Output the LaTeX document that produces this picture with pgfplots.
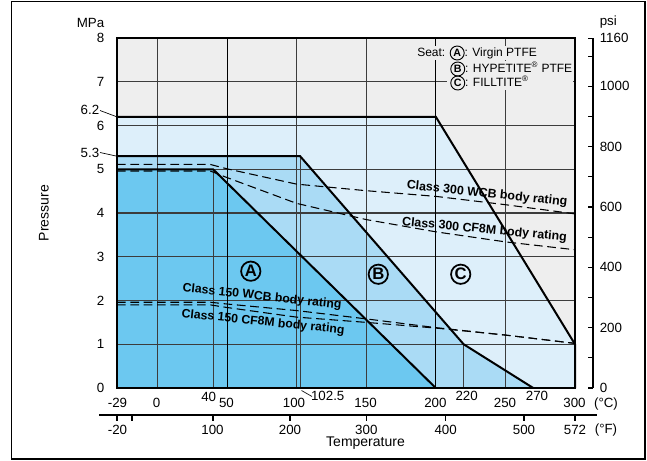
\documentclass[border=0pt]{standalone}
\usepackage{pgfplots}
\pgfplotsset{compat=1.18}
\usepackage{fontspec}
\setmainfont{Liberation Sans}
\definecolor{cGray}{RGB}{238,238,238}
\definecolor{cA}{RGB}{108,200,240}
\definecolor{cB}{RGB}{170,219,245}
\definecolor{cC}{RGB}{221,239,250}
\definecolor{cGrid}{RGB}{60,60,60}
\newcommand{\fs}[1]{\fontsize{#1}{#1}\selectfont}
\newcommand{\circled}[1]{\tikz[baseline=(c.base)]\node[circle,draw,line width=0.7pt,inner sep=0pt,minimum size=10.5pt,font=\bfseries\fs{8}](c){#1};}
\begin{document}
\begin{tikzpicture}
\useasboundingbox (0,0) rectangle (485.25pt,-345.75pt);
\begin{axis}[
  at={(87.75pt,-291pt)}, anchor=south west,
  scale only axis, width=343.5pt, height=262.5pt,
  xmin=-29, xmax=300, ymin=0, ymax=8,
  axis background/.style={fill=cGray},
  xtick=\empty, ytick=\empty,
  axis line style={black, line width=0.9pt},
  axis on top, clip=false,
]
% regions (seat ratings)
\addplot[fill=cC, draw=none] coordinates {(-29,0) (-29,6.2) (200,6.2) (300,1.0) (300,0)} -- cycle;
\addplot[fill=cB, draw=none] coordinates {(-29,0) (-29,5.3) (102.5,5.3) (220,1.0) (270,0)} -- cycle;
\addplot[fill=cA, draw=none] coordinates {(-29,0) (-29,5.0) (40,5.0) (200,0)} -- cycle;
% grid
\pgfplotsinvokeforeach{0,100,150,250}{\draw[cGrid, line width=0.8pt] (axis cs:#1,0) -- (axis cs:#1,8);}
\pgfplotsinvokeforeach{1,2,3,4,5,6,7}{\draw[cGrid, line width=0.8pt] (axis cs:-29,#1) -- (axis cs:300,#1);}
\draw[cGrid, line width=0.8pt] (axis cs:40,0) -- (axis cs:40,5);
\draw[cGrid, line width=0.8pt] (axis cs:102.5,0) -- (axis cs:102.5,5.3);
\draw[cGrid, line width=0.8pt] (axis cs:220,0) -- (axis cs:220,1);
\draw[black, line width=0.5pt] (axis cs:50,0) -- (axis cs:50,8);
\draw[black, line width=0.5pt] (axis cs:200,0) -- (axis cs:200,8);
% body ratings (dashed)
\addplot[black, line width=0.8pt, dash pattern=on 6.5pt off 3.5pt] coordinates {(-29,5.11) (38,5.11) (50,5.01) (100,4.66) (150,4.51) (200,4.38) (250,4.19) (300,3.98)};
\addplot[black, line width=0.8pt, dash pattern=on 6.5pt off 3.5pt] coordinates {(-29,4.96) (38,4.96) (50,4.81) (100,4.22) (150,3.85) (200,3.57) (250,3.34) (300,3.16)};
\addplot[black, line width=0.8pt, dash pattern=on 6.5pt off 3.5pt] coordinates {(-29,1.96) (38,1.96) (50,1.92) (100,1.77) (150,1.58) (200,1.38) (250,1.21) (300,1.02)};
\addplot[black, line width=0.8pt, dash pattern=on 6.5pt off 3.5pt] coordinates {(-29,1.90) (38,1.90) (50,1.84) (100,1.62) (150,1.50) (200,1.37) (250,1.21) (300,1.02)};
% seat boundaries
\addplot[black, line width=1.5pt] coordinates {(-29,5.0) (40,5.0) (200,0)};
\addplot[black, line width=1.5pt] coordinates {(-29,5.3) (102.5,5.3) (220,1.0) (270,0)};
\addplot[black, line width=1.5pt] coordinates {(-29,6.2) (200,6.2) (300,1.0) (300,0)};
% labels
\node[rotate=-6, font=\bfseries\fs{9.3}] at (axis cs:236.8,4.43) {Class 300 WCB body rating};
\node[rotate=-5.5, font=\bfseries\fs{9.3}] at (axis cs:235.0,3.61) {Class 300 CF8M body rating};
\node[rotate=-6.2, font=\bfseries\fs{9.2}] at (axis cs:75.2,2.08) {Class 150 WCB body rating};
\node[rotate=-5.8, font=\bfseries\fs{9.2}] at (axis cs:75.9,1.50) {Class 150 CF8M body rating};
\node[circle, draw, line width=1.3pt, minimum size=14.5pt, inner sep=0pt, font=\bfseries\fs{12.5}] at (axis cs:67.1,2.67) {A};
\node[circle, draw, line width=1.3pt, minimum size=14.5pt, inner sep=0pt, font=\bfseries\fs{12.5}] at (axis cs:158.7,2.60) {B};
\node[circle, draw, line width=1.3pt, minimum size=14.5pt, inner sep=0pt, font=\bfseries\fs{12.5}] at (axis cs:217.9,2.60) {C};
\end{axis}
\begin{scope}[x=0.75pt,y=-0.75pt]
\draw[line width=1pt] (11.5,1.5) rectangle (645,459);
% legend
\fill[cGray] (415,46) rectangle (541,60);
\fill[cGray] (447,61) rectangle (573,90);
\node[anchor=west, inner sep=0pt, font=\fs{9}] at (417,53) {Seat: \circled{A}: Virgin PTFE};
\node[anchor=west, inner sep=0pt, font=\fs{9}] at (450,69) {\circled{B}: HYPETITE\textsuperscript{®} PTFE};
\node[anchor=west, inner sep=0pt, font=\fs{9}] at (450,83) {\circled{C}: FILLTITE\textsuperscript{®}};
% left axis labels
\foreach \v in {0,...,8} \node[anchor=east, inner sep=0pt, font=\fs{10}] at (104.5,{388-43.75*\v}) {\v};
\node[anchor=east, inner sep=0pt, font=\fs{10}] at (99.5,110) {6.2};
\node[anchor=east, inner sep=0pt, font=\fs{10}] at (99.5,153) {5.3};
\draw[line width=0.5pt] (100,110.5) -- (116,116.5);
\draw[line width=0.5pt] (100,152.5) -- (116,156);
\node[anchor=east, inner sep=0pt, font=\fs{10}] at (104.5,22.5) {MPa};
\node[rotate=90, font=\fs{10.5}] at (44,213) {Pressure};
% right psi axis
\draw[line width=0.8pt] (593,38) -- (593,388);
\foreach \p in {0,100,...,1100,1160} \draw[line width=0.8pt] (588,{388-\p/145.038*43.75}) -- (593,{388-\p/145.038*43.75});
\foreach \p in {0,200,...,1000,1160} \node[anchor=west, inner sep=0pt, font=\fs{10}] at (599.5,{388-\p/145.038*43.75}) {\p};
\node[anchor=west, inner sep=0pt, font=\fs{10}] at (599.5,22) {psi};
% celsius labels
\foreach \x/\t in {117.5/-29,156.7/0,226.5/50,294/100,365.6/150,435.4/200,505/250,574.5/300}
  \node[font=\fs{10}, inner sep=0pt] at (\x,403.3) {\t};
\node[font=\fs{10}, inner sep=0pt] at (208.7,396.5) {40};
\node[font=\fs{10}, inner sep=0pt] at (327.7,396) {102.5};
\node[font=\fs{10}, inner sep=0pt] at (466.7,396) {220};
\node[font=\fs{10}, inner sep=0pt] at (537,396) {270};
\draw[line width=0.5pt] (301.5,390.5) -- (312,396.5);
\node[font=\fs{10}, inner sep=0pt] at (606,404) {(°C)};
% fahrenheit axis
\draw[line width=0.8pt] (99,415) -- (597,415);
\foreach \x in {117,132,213,290,366.5,445.5,524,575} \draw[line width=0.8pt] (\x,415) -- (\x,420.5);
\foreach \x/\t in {117.5/-20,212.5/100,290/200,366.3/300,445.7/400,524/500,575/572}
  \node[font=\fs{10}, inner sep=0pt] at (\x,429.5) {\t};
\node[font=\fs{10}, inner sep=0pt] at (606,430.5) {(°F)};
\node[font=\fs{10.5}, inner sep=0pt] at (365.5,443.5) {Temperature};
\end{scope}
\end{tikzpicture}
\end{document}
